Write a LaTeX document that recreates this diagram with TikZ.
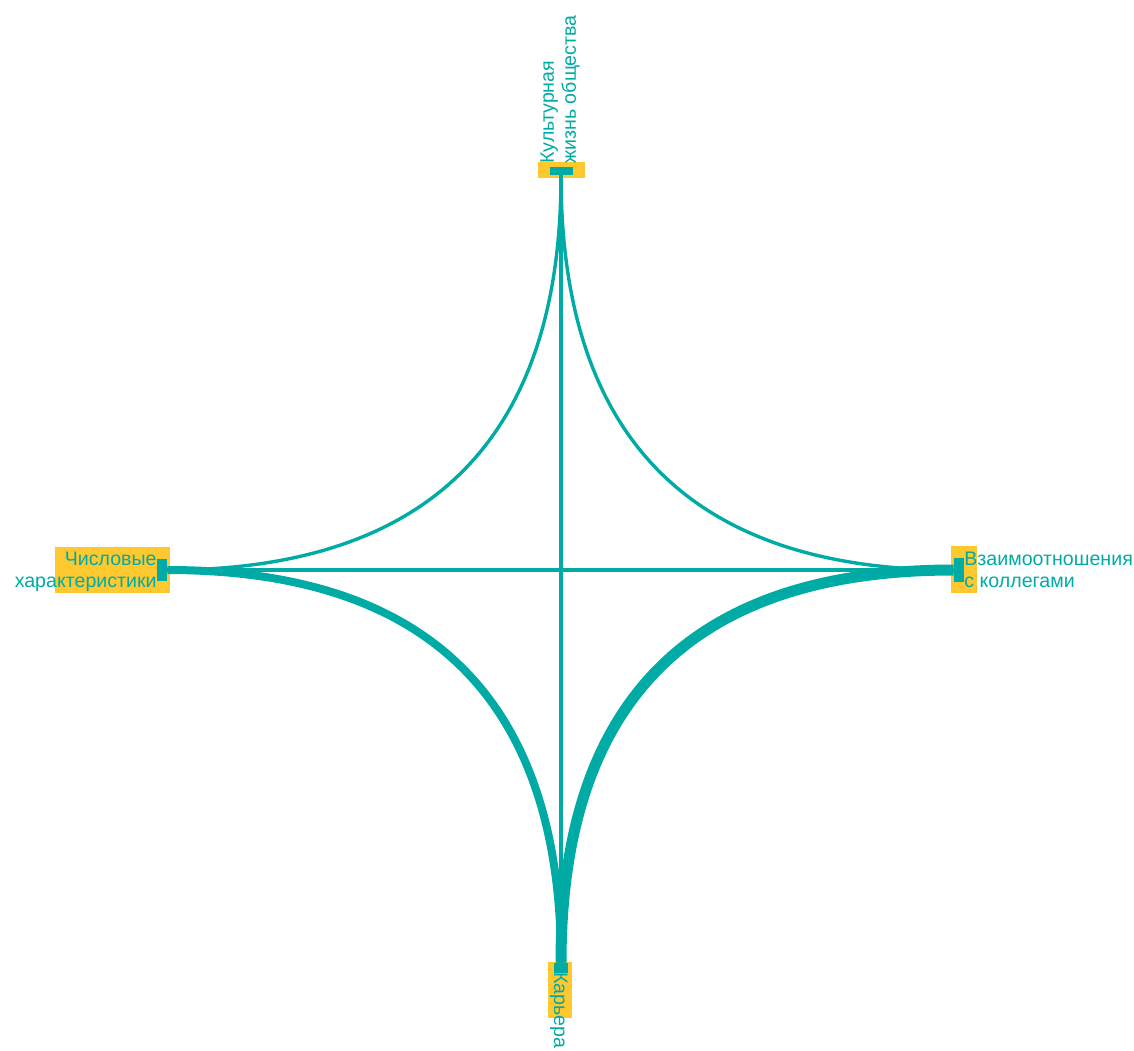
\documentclass[tikz,border=0pt]{standalone}
\usepackage{fontspec}
\setmainfont{Liberation Sans}
\usetikzlibrary{calc}
\definecolor{linkteal}{RGB}{0,171,165}
\definecolor{padyellow}{RGB}{255,200,46}

\begin{document}
\begin{tikzpicture}[x=0.5pt,y=-0.5pt,
  every node/.style={font=\fontsize{9.8}{11}\selectfont,text=linkteal,inner sep=0pt},
  padbox/.style={fill=padyellow,draw=none},
  portbox/.style={fill=linkteal,draw=none},
  link/.style={linkteal,line width=1.7pt}]
  \useasboundingbox (0,0) rectangle (1134,1050);
  \node[padbox,minimum width=23.5pt,minimum height=8pt] (kulpad) at (561.5,170) {};
  \node[padbox,minimum width=57.5pt,minimum height=23pt] (chispad) at (112.5,570) {};
  \node[padbox,minimum width=13pt,minimum height=23.5pt] (vzpad) at (964,569.5) {};
  \node[padbox,minimum width=12pt,minimum height=28pt] (karpad) at (560,990) {};
  \node[portbox,minimum width=11.5pt,minimum height=4pt] (kul) at (561,171) {};
  \node[portbox,minimum width=5pt,minimum height=11pt] (chis) at (162,570) {};
  \node[portbox,minimum width=5pt,minimum height=12pt] (vz) at (959,570) {};
  \node[portbox,minimum width=7pt,minimum height=5pt] (kar) at (561,968) {};
  \coordinate (ctr) at (561,570);
  \draw[link] (kul.south) -- (kar.north);
  \draw[link] (chis.east) -- (vz.west);
  \draw[link] (chis.east) .. controls ($(chis.east)!2/3!(ctr)$) and ($(kul.south)!2/3!(ctr)$) .. (kul.south);
  \draw[link] (vz.west) .. controls ($(vz.west)!2/3!(ctr)$) and ($(kul.south)!2/3!(ctr)$) .. (kul.south);
  \draw[link,line width=4pt] (chis.east) .. controls ($(chis.east)!2/3!(ctr)$) and ($(kar.north)!2/3!(ctr)$) .. (kar.north);
  \draw[link,line width=5.5pt] (vz.west) .. controls ($(vz.west)!2/3!(ctr)$) and ($(kar.north)!2/3!(ctr)$) .. (kar.north);
  \node[anchor=north west,rotate=90,align=left] (kultxt) at (540,164) {Культурная\\жизнь общества};
  \node[anchor=north east,align=right] (chistxt) at (157,552) {Числовые\\характеристики};
  \node[anchor=north west,align=left] (vztxt) at (964,552) {Взаимоотношения\\с коллегами};
  \node[anchor=north west,rotate=-90] (kartxt) at (568,972) {Карьера};
\end{tikzpicture}
\end{document}
